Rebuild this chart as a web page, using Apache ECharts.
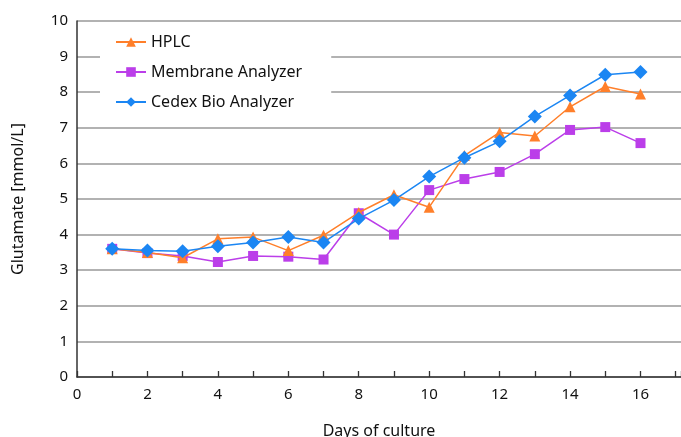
<!DOCTYPE html>
<html><head><meta charset="utf-8">
<script src="https://cdn.jsdelivr.net/npm/echarts@6/dist/echarts.min.js"></script>
<style>html,body{margin:0;padding:0;background:#fff}#c{width:681px;height:437px}</style>
</head><body><div id="c"></div>
<script>
const days = [1,2,3,4,5,6,7,8,9,10,11,12,13,14,15,16];
const hplc = [3.6,3.5,3.35,3.88,3.93,3.55,3.98,4.62,5.12,4.77,6.22,6.87,6.77,7.59,8.16,7.95];
const membrane = [3.6,3.48,3.4,3.23,3.4,3.38,3.3,4.6,4.0,5.25,5.56,5.76,6.26,6.94,7.02,6.57];
const cedex = [3.6,3.55,3.53,3.67,3.78,3.93,3.78,4.45,4.97,5.63,6.16,6.62,7.32,7.91,8.49,8.57];
const seriesNames = ['HPLC','Membrane Analyzer','Cedex Bio Analyzer'];
const xTickLabels = ['0','2','4','6','8','10','12','14','16'];
const yTickLabels = ['0','1','2','3','4','5','6','7','8','9','10'];

const font = 'Noto Sans';
const pair = arr => days.map((d,i)=>[d,arr[i]]);
const chart = echarts.init(document.getElementById('c'), null, {renderer:'canvas'});
chart.setOption({
  animation:false,
  textStyle:{fontFamily:font},
  grid:{left:77,right:0,top:21,bottom:60,containLabel:false,outerBoundsMode:'none'},
  legend:{
    orient:'vertical', left:100, top:27, padding:[7,29,9,15],
    backgroundColor:'#fff', itemWidth:30, itemHeight:12, itemGap:14,
    textStyle:{fontSize:16,color:'#111',fontFamily:font},
    data:seriesNames
  },
  xAxis:{
    type:'value', min:0, max:17.15, interval:1,
    name:'Days of culture', nameLocation:'middle', nameGap:46,
    nameTextStyle:{fontSize:16,color:'#111'},
    axisLine:{lineStyle:{color:'#333',width:1.5}},
    axisTick:{show:true,inside:true,length:6,lineStyle:{color:'#333',width:1.3}},
    axisLabel:{fontSize:15,color:'#111',margin:10,
      formatter:v=>{const s=String(Math.round(v)); return (Math.abs(v-Math.round(v))<1e-6 && xTickLabels.includes(s))?s:'';}},
    splitLine:{show:false}
  },
  yAxis:{
    type:'value', min:0, max:10, interval:1,
    name:'Glutamate [mmol/L]', nameLocation:'middle', nameGap:51,
    nameTextStyle:{fontSize:16,color:'#111'},
    axisLine:{show:true,lineStyle:{color:'#333',width:1.5}},
    axisTick:{show:false},
    axisLabel:{fontSize:15,color:'#111',margin:9,formatter:v=>yTickLabels[Math.round(v)]},
    splitLine:{show:true,lineStyle:{color:'#999',width:1.5}}
  },
  series:[
    {name:seriesNames[0],type:'line',data:pair(hplc),symbol:'triangle',symbolSize:11,
     lineStyle:{color:'#ff7f2a',width:1.5},itemStyle:{color:'#ff7f2a'},z:3},
    {name:seriesNames[1],type:'line',data:pair(membrane),symbol:'rect',symbolSize:10,
     lineStyle:{color:'#bb3ee9',width:1.5},itemStyle:{color:'#bb3ee9'},z:2},
    {name:seriesNames[2],type:'line',data:pair(cedex),symbol:'diamond',symbolSize:14,
     lineStyle:{color:'#1b86f3',width:1.5},itemStyle:{color:'#1b86f3'},z:4}
  ]
});
</script></body></html>
